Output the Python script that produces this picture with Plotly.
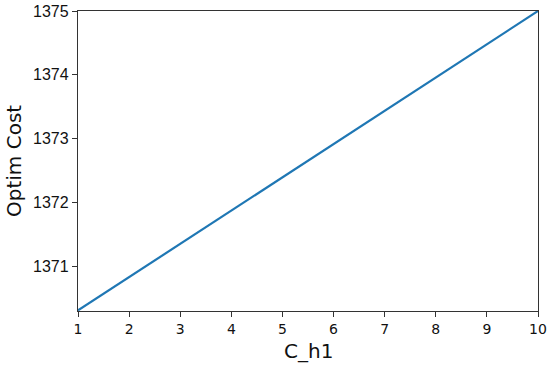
import plotly.graph_objects as go

# C_h1 sweep vs optimal cost
c_h1 = [1, 2, 3, 4, 5, 6, 7, 8, 9, 10]
optim_cost = [1370.31, 1370.83, 1371.35, 1371.87, 1372.40,
              1372.92, 1373.44, 1373.96, 1374.48, 1375.00]

x_ticks = [1, 2, 3, 4, 5, 6, 7, 8, 9, 10]
y_ticks = [1371, 1372, 1373, 1374, 1375]

fig = go.Figure()
fig.add_trace(go.Scatter(
    x=c_h1, y=optim_cost,
    mode="lines",
    line=dict(color="#1f77b4", width=2.2),
    showlegend=False,
))

axis_common = dict(
    showline=True, linecolor="#333333", linewidth=1.3, mirror=True,
    ticks="outside", ticklen=5, tickcolor="#333333",
    showgrid=False, zeroline=False, automargin=False,
    ticklabeloverflow="allow",
)

fig.update_layout(
    width=550, height=367,
    margin=dict(l=78, r=12, t=11, b=56),
    plot_bgcolor="white", paper_bgcolor="white",
    xaxis=dict(
        range=[1, 10], tickvals=x_ticks,
        tickfont=dict(family="DejaVu Sans", size=14, color="#111111"),
        **axis_common,
    ),
    yaxis=dict(
        range=[1370.3, 1375], tickvals=y_ticks,
        tickfont=dict(family="Liberation Sans", size=16, color="#111111"),
        **axis_common,
    ),
    annotations=[
        dict(text="C_h1", xref="paper", yref="paper", x=0.5, y=0,
             xanchor="center", yanchor="middle", yshift=-40, showarrow=False,
             font=dict(family="DejaVu Sans", size=20, color="#111111")),
        dict(text="Optim Cost", xref="paper", yref="paper", x=0, y=0.5,
             xanchor="center", yanchor="middle", xshift=-64, textangle=-90,
             showarrow=False,
             font=dict(family="DejaVu Sans", size=20, color="#111111")),
    ],
)

# drop the default 8px page margin so the figure sits at the window's corner
fig.write_html(
    "out.html",
    config={"displayModeBar": False},
    post_script="document.body.style.margin='0';",
)
